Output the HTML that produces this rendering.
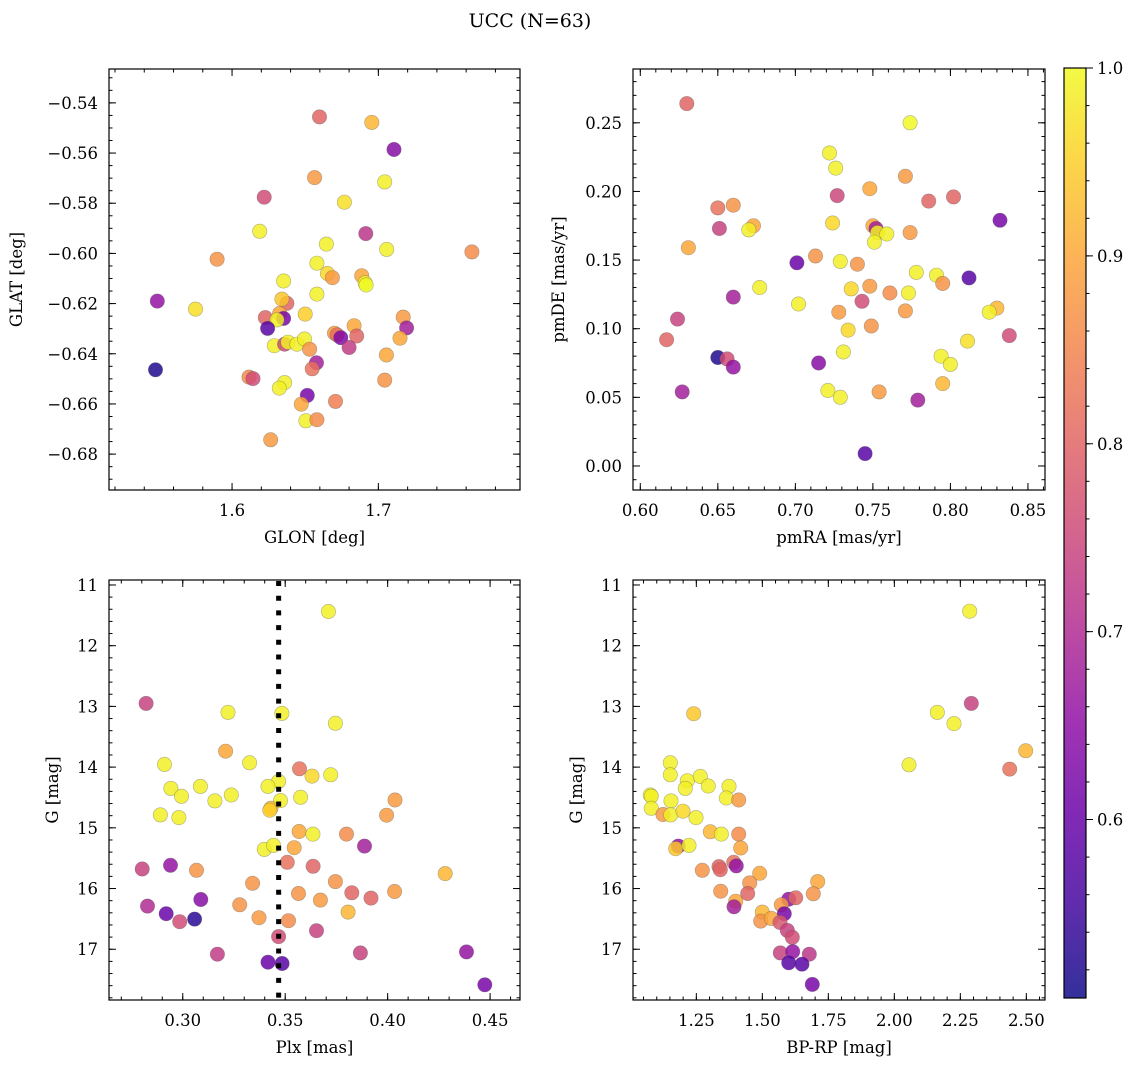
<!DOCTYPE html>
<html><head><meta charset="utf-8">
<style>
html,body{margin:0;padding:0;background:#fff;}
svg{display:block;font-family:"DejaVu Serif","Liberation Serif",serif;}
</style></head>
<body>
<svg id="fig" width="1136" height="1067" viewBox="0 0 1136 1067" xmlns="http://www.w3.org/2000/svg">
<text x="530" y="27" font-size="19" text-anchor="middle" fill="#000">UCC (N=63)</text>
</svg>
<script>
// ---------- data ----------
const tlGlon=[1.6598,1.6955,1.7107,1.6564,1.7043,1.6220,1.6768,1.6189,1.6914,1.6645,1.7057,1.7639,1.5898,1.6580,1.6652,1.6686,1.6886,1.6909,1.6916,1.6352,1.6580,1.5489,1.5750,1.6375,1.6341,1.6500,1.6325,1.6227,1.6352,1.6307,1.6243,1.7170,1.7193,1.6834,1.6852,1.6700,1.6718,1.6743,1.6800,1.7148,1.6289,1.6359,1.6382,1.6443,1.6495,1.6530,1.6577,1.6548,1.7055,1.5477,1.6116,1.6143,1.6359,1.6323,1.7043,1.6514,1.6473,1.6707,1.6505,1.6580,1.6264];
const tlGlat=[-0.5456,-0.5478,-0.5586,-0.5698,-0.5715,-0.5776,-0.5796,-0.5912,-0.5921,-0.5963,-0.5984,-0.5994,-0.6023,-0.6039,-0.6080,-0.6097,-0.6089,-0.6117,-0.6126,-0.6110,-0.6162,-0.6190,-0.6222,-0.6199,-0.6182,-0.6242,-0.6239,-0.6256,-0.6259,-0.6265,-0.6299,-0.6254,-0.6297,-0.6288,-0.6329,-0.6318,-0.6325,-0.6336,-0.6375,-0.6338,-0.6368,-0.6362,-0.6354,-0.6362,-0.6341,-0.6382,-0.6436,-0.6460,-0.6405,-0.6464,-0.6493,-0.6499,-0.6515,-0.6537,-0.6505,-0.6566,-0.6601,-0.6590,-0.6667,-0.6663,-0.6743];
const tlColor=[0.80,0.92,0.64,0.88,0.99,0.76,0.97,0.99,0.72,0.99,0.99,0.86,0.87,0.99,0.96,0.88,0.90,0.99,1.00,0.99,0.99,0.66,0.97,0.80,0.94,0.95,0.90,0.80,0.62,0.99,0.58,0.88,0.68,0.90,0.80,0.88,0.82,0.63,0.73,0.90,0.99,0.75,0.99,0.99,0.99,0.87,0.68,0.82,0.90,0.52,0.86,0.76,0.99,0.99,0.87,0.62,0.90,0.84,0.99,0.86,0.88];

const trPmra=[0.630,0.774,0.722,0.726,0.771,0.748,0.727,0.786,0.802,0.650,0.660,0.832,0.651,0.673,0.670,0.724,0.750,0.752,0.753,0.759,0.751,0.774,0.631,0.713,0.701,0.729,0.740,0.778,0.791,0.795,0.812,0.677,0.736,0.748,0.761,0.773,0.660,0.743,0.702,0.728,0.771,0.830,0.825,0.624,0.734,0.749,0.617,0.838,0.811,0.731,0.794,0.800,0.650,0.656,0.660,0.715,0.627,0.721,0.729,0.754,0.795,0.779,0.745];
const trPmde=[0.264,0.250,0.228,0.217,0.211,0.202,0.197,0.193,0.196,0.188,0.190,0.179,0.173,0.175,0.172,0.177,0.175,0.173,0.170,0.169,0.163,0.170,0.159,0.153,0.148,0.149,0.147,0.141,0.139,0.133,0.137,0.130,0.129,0.131,0.126,0.126,0.123,0.120,0.118,0.112,0.113,0.115,0.112,0.107,0.099,0.102,0.092,0.095,0.091,0.083,0.080,0.074,0.079,0.078,0.072,0.075,0.054,0.055,0.050,0.054,0.060,0.048,0.009];
const trColor=[0.80,1.00,0.99,0.99,0.88,0.90,0.75,0.80,0.80,0.82,0.87,0.62,0.74,0.90,0.99,0.96,0.90,0.68,0.99,0.99,0.99,0.88,0.90,0.87,0.60,0.99,0.87,0.99,0.99,0.87,0.58,0.99,0.96,0.88,0.86,0.99,0.68,0.76,0.99,0.88,0.88,0.92,0.99,0.74,0.96,0.87,0.80,0.76,0.97,0.99,0.99,0.99,0.52,0.76,0.66,0.64,0.68,0.99,0.99,0.88,0.92,0.68,0.58];

const blPlx=[0.3711,0.2821,0.3221,0.3484,0.3745,0.3209,0.2911,0.3326,0.3570,0.3631,0.3722,0.3468,0.3416,0.2942,0.3086,0.2994,0.3237,0.3157,0.3477,0.3575,0.4036,0.3430,0.3425,0.2891,0.2981,0.3995,0.3568,0.3635,0.3799,0.3887,0.3398,0.3443,0.3544,0.3510,0.3636,0.2802,0.2940,0.3067,0.4281,0.3745,0.3341,0.3565,0.3825,0.4034,0.3919,0.3672,0.3278,0.2828,0.3088,0.3807,0.2919,0.3372,0.3516,0.2985,0.3058,0.3653,0.3468,0.3169,0.3867,0.4385,0.3416,0.3485,0.4474];
const blG=[11.437,12.951,13.098,13.115,13.279,13.738,13.956,13.929,14.027,14.148,14.126,14.235,14.317,14.350,14.317,14.481,14.459,14.557,14.552,14.497,14.541,14.678,14.710,14.787,14.831,14.792,15.060,15.104,15.104,15.301,15.355,15.290,15.328,15.568,15.634,15.678,15.617,15.699,15.754,15.885,15.913,16.082,16.071,16.049,16.158,16.191,16.268,16.290,16.180,16.388,16.415,16.481,16.530,16.546,16.503,16.694,16.792,17.082,17.060,17.044,17.213,17.235,17.585];
const blColor=[0.99,0.74,0.99,0.99,0.99,0.90,0.99,0.99,0.82,0.96,0.99,0.99,0.99,0.99,0.99,0.99,0.99,0.99,0.99,0.99,0.88,0.92,0.95,0.99,0.99,0.88,0.90,0.99,0.86,0.68,0.99,0.99,0.90,0.82,0.80,0.74,0.66,0.87,0.92,0.87,0.87,0.87,0.80,0.88,0.80,0.88,0.87,0.70,0.64,0.92,0.60,0.88,0.86,0.76,0.53,0.74,0.76,0.73,0.74,0.66,0.60,0.58,0.62];
const blVline=[0.3468];

const brBprp=[2.2854,2.2917,2.1629,2.2260,1.2399,2.4975,2.0556,2.4369,1.1515,1.1515,1.2159,1.2652,1.2083,1.2955,1.3737,1.0758,1.0795,1.1540,1.3636,1.4104,1.0795,1.1237,1.1528,1.1995,1.2487,1.3030,1.3447,1.4104,1.4179,1.1818,1.1717,1.2222,1.3914,1.4015,1.3359,1.3409,1.2727,1.4899,1.4520,1.7096,1.3422,1.4444,1.6932,1.5997,1.6263,1.3990,1.3927,1.5720,1.5000,1.5833,1.4937,1.5341,1.5669,1.5947,1.6136,1.5682,1.6149,1.6780,1.5997,1.6503,1.6894];
const brG=[11.432,12.951,13.098,13.284,13.120,13.732,13.962,14.033,13.929,14.126,14.224,14.153,14.350,14.311,14.317,14.459,14.481,14.557,14.508,14.541,14.678,14.781,14.787,14.727,14.831,15.066,15.104,15.104,15.333,15.301,15.344,15.290,15.568,15.628,15.639,15.689,15.699,15.749,15.907,15.885,16.044,16.082,16.087,16.175,16.153,16.208,16.301,16.268,16.388,16.415,16.536,16.492,16.557,16.689,16.803,17.060,17.038,17.082,17.224,17.246,17.579];
const brColor=[0.99,0.74,0.99,0.99,0.94,0.92,0.99,0.82,0.99,0.99,0.99,0.99,0.99,0.99,0.99,0.99,0.99,0.99,0.99,0.88,0.99,0.88,0.99,0.96,0.99,0.92,0.99,0.86,0.90,0.66,0.94,0.99,0.82,0.66,0.80,0.80,0.87,0.90,0.87,0.90,0.87,0.80,0.87,0.66,0.80,0.90,0.68,0.88,0.92,0.62,0.87,0.90,0.78,0.74,0.76,0.74,0.66,0.72,0.58,0.58,0.62];

const tlXTicks=[1.6,1.7], tlXLabels=['1.6','1.7'];
const tlYTicks=[-0.54,-0.56,-0.58,-0.60,-0.62,-0.64,-0.66,-0.68];
const tlYLabels=['−0.54','−0.56','−0.58','−0.60','−0.62','−0.64','−0.66','−0.68'];
const trXTicks=[0.60,0.65,0.70,0.75,0.80,0.85], trXLabels=['0.60','0.65','0.70','0.75','0.80','0.85'];
const trYTicks=[0.00,0.05,0.10,0.15,0.20,0.25], trYLabels=['0.00','0.05','0.10','0.15','0.20','0.25'];
const blXTicks=[0.30,0.35,0.40,0.45], blXLabels=['0.30','0.35','0.40','0.45'];
const gTicks=[11,12,13,14,15,16,17], gLabels=['11','12','13','14','15','16','17'];
const brXTicks=[1.25,1.50,1.75,2.00,2.25,2.50], brXLabels=['1.25','1.50','1.75','2.00','2.25','2.50'];
const cbTicks=[0.6,0.7,0.8,0.9,1.0], cbLabels=['0.6','0.7','0.8','0.9','1.0'];
const cbRange=[0.505,1.0];

// ---------- helpers ----------
const NS='http://www.w3.org/2000/svg';
const svg=document.getElementById('fig');
function mk(tag,attrs,parent){const e=document.createElementNS(NS,tag);for(const k in attrs)e.setAttribute(k,attrs[k]);(parent||svg).appendChild(e);return e;}
const plasma=[[13,8,135],[65,4,157],[106,0,168],[143,13,164],[177,42,144],[204,71,120],[225,100,98],[242,132,75],[252,166,54],[252,206,37],[240,249,33]];
function cmap(v){let t=(v-cbRange[0])/(cbRange[1]-cbRange[0]);t=Math.max(0,Math.min(1,t))*10;const i=Math.min(9,Math.floor(t)),f=t-i;const a=plasma[i],b=plasma[i+1];return 'rgb('+a.map((c,k)=>Math.round(c+(b[k]-c)*f)).join(',')+')';}

function panel(o){
  const g=mk('g',{});
  
  
  const sx=v=>o.x0+(v-o.xd[0])/(o.xd[1]-o.xd[0])*(o.x1-o.x0);
  const sy=v=>o.y0+(v-o.yd[0])/(o.yd[1]-o.yd[0])*(o.y1-o.y0);
  const pg=mk('g',{},g);
  
  
  for(let i=0;i<o.xs.length;i++){
    const c=mk('circle',{cx:sx(o.xs[i]).toFixed(1),cy:sy(o.ys[i]).toFixed(1),r:7.2,fill:cmap(o.cs[i]),'fill-opacity':0.84,stroke:'#555','stroke-opacity':0.45,'stroke-width':0.6},pg);
    
    
  }
  if(o.vline){
    const vx=sx(o.vline[0]);
    const l=mk('line',{x1:vx,x2:vx,y1:o.y0+1,y2:o.y1,stroke:'#000','stroke-width':5,'stroke-dasharray':'5 9.7'},g);
    
    
  }
  const fr=mk('rect',{x:o.x0,y:o.y0,width:o.x1-o.x0,height:o.y1-o.y0,fill:'none',stroke:'#000','stroke-width':1.2},g);
  
  
  const tk=mk('g',{stroke:'#000','stroke-width':1},g);
  
  
  const lo=Math.min(o.xd[0],o.xd[1]),hi=Math.max(o.xd[0],o.xd[1]);
  for(let v=Math.ceil(lo/o.xm-1e-6)*o.xm;v<=hi+1e-9;v+=o.xm){const x=sx(v);mk('line',{x1:x,x2:x,y1:o.y1,y2:o.y1-3.5},tk);mk('line',{x1:x,x2:x,y1:o.y0,y2:o.y0+3.5},tk);}
  const ylo=Math.min(o.yd[0],o.yd[1]),yhi=Math.max(o.yd[0],o.yd[1]);
  for(let v=Math.ceil(ylo/o.ym-1e-6)*o.ym;v<=yhi+1e-9;v+=o.ym){const y=sy(v);mk('line',{x1:o.x0,x2:o.x0+3.5,y1:y,y2:y},tk);mk('line',{x1:o.x1,x2:o.x1-3.5,y1:y,y2:y},tk);}
  o.xt.forEach((v,i)=>{const x=sx(v);mk('line',{x1:x,x2:x,y1:o.y1,y2:o.y1-7},tk);mk('line',{x1:x,x2:x,y1:o.y0,y2:o.y0+7},tk);
    const t=mk('text',{x:x,y:o.y1+26,'font-size':16.5,'text-anchor':'middle',fill:'#000'},g);t.textContent=o.xl[i];
    
    });
  o.yt.forEach((v,i)=>{const y=sy(v);mk('line',{x1:o.x0,x2:o.x0+7,y1:y,y2:y},tk);mk('line',{x1:o.x1,x2:o.x1-7,y1:y,y2:y},tk);
    const t=mk('text',{x:o.x0-11,y:y+6,'font-size':16.5,'text-anchor':'end',fill:'#000'},g);t.textContent=o.yl[i];
    
    });
  const xt=mk('text',{x:(o.x0+o.x1)/2,y:o.y1+53,'font-size':16.5,'text-anchor':'middle',fill:'#000'},g);xt.textContent=o.xtitle;
  
  
  const yt=mk('text',{x:0,y:0,'font-size':16.5,'text-anchor':'middle',fill:'#000',transform:'translate('+o.ytx+','+(o.y0+o.y1)/2+') rotate(-90)'},g);yt.textContent=o.ytitle;
  
  
}

panel({name:'glon-glat-panel',x0:109,x1:520,y0:69,y1:490,xd:[1.5159,1.7968],yd:[-0.5265,-0.6943],xs:tlGlon,ys:tlGlat,cs:tlColor,xt:tlXTicks,xl:tlXLabels,yt:tlYTicks,yl:tlYLabels,xm:0.02,ym:0.005,xtitle:'GLON [deg]',ytitle:'GLAT [deg]',ytx:22});
panel({name:'pm-panel',x0:633,x1:1045,y0:69,y1:490,xd:[0.5953,0.8610],yd:[0.2892,-0.0175],xs:trPmra,ys:trPmde,cs:trColor,xt:trXTicks,xl:trXLabels,yt:trYTicks,yl:trYLabels,xm:0.01,ym:0.01,xtitle:'pmRA [mas/yr]',ytitle:'pmDE [mas/yr]',ytx:564});
panel({name:'plx-g-panel',x0:109,x1:520,y0:580,y1:1000,xd:[0.2640,0.4646],yd:[10.918,17.836],xs:blPlx,ys:blG,cs:blColor,xt:blXTicks,xl:blXLabels,yt:gTicks,yl:gLabels,xm:0.01,ym:0.2,xtitle:'Plx [mas]',ytitle:'G [mag]',ytx:58,vline:blVline});
panel({name:'cmd-panel',x0:633,x1:1045,y0:580,y1:1000,xd:[1.0101,2.5707],yd:[10.918,17.836],xs:brBprp,ys:brG,cs:brColor,xt:brXTicks,xl:brXLabels,yt:gTicks,yl:gLabels,xm:0.05,ym:0.2,xtitle:'BP-RP [mag]',ytitle:'G [mag]',ytx:582});

// ---------- colorbar ----------
(function(){
  const x0=1064,x1=1086,y0=68,y1=998;
  const g=mk('g',{});
  
  
  const defs=mk('defs',{},g);
  const lg=mk('linearGradient',{id:'cbg',x1:0,y1:1,x2:0,y2:0},defs);
  for(let k=0;k<=20;k++){const v=cbRange[0]+(cbRange[1]-cbRange[0])*k/20;mk('stop',{offset:(k/20),'stop-color':cmap(v)},lg);}
  const r=mk('rect',{x:x0,y:y0,width:x1-x0,height:y1-y0,fill:'url(#cbg)','fill-opacity':0.84,stroke:'#000','stroke-width':1.2},g);
  
  
  const sy=v=>y1-(v-cbRange[0])/(cbRange[1]-cbRange[0])*(y1-y0);
  for(let v=0.52;v<=1.0001;v+=0.02){const y=sy(v);mk('line',{x1:x1,x2:x1+3.5,y1:y,y2:y,stroke:'#000','stroke-width':1},g);}
  cbTicks.forEach((v,i)=>{const y=sy(v);mk('line',{x1:x1,x2:x1+7,y1:y,y2:y,stroke:'#000','stroke-width':1},g);
    const t=mk('text',{x:x1+11,y:y+6,'font-size':16.5,fill:'#000'},g);t.textContent=cbLabels[i];
    
    });
})();
</script>
</body></html>
